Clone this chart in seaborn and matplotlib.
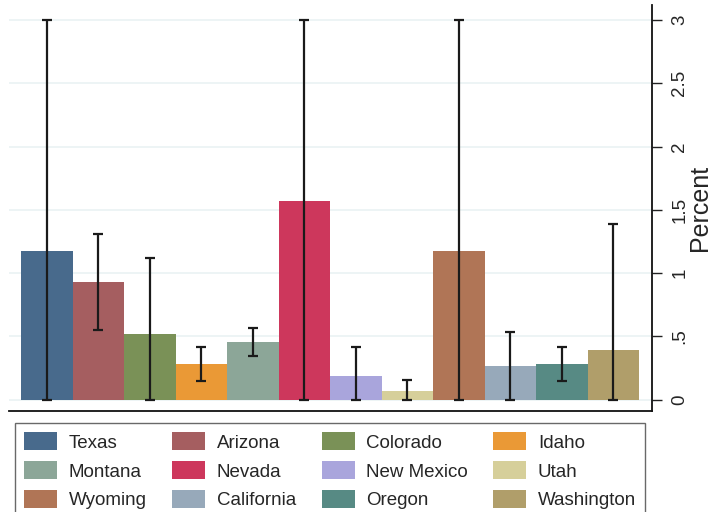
import matplotlib
matplotlib.use("Agg")
import matplotlib.pyplot as plt
from matplotlib.patches import Patch
import seaborn as sns
import pandas as pd

# Share of respondents by state, with confidence interval bounds
states = ["Texas", "Arizona", "Colorado", "Idaho", "Montana", "Nevada",
          "New Mexico", "Utah", "Wyoming", "California", "Oregon", "Washington"]
percent = [1.175, 0.93, 0.52, 0.28, 0.455, 1.568, 0.188, 0.066, 1.175, 0.265, 0.281, 0.391]
ci_low = [0.0, 0.549, 0.0, 0.146, 0.344, 0.0, 0.0, 0.0, 0.0, 0.0, 0.149, 0.0]
ci_high = [3.0, 1.306, 1.12, 0.413, 0.563, 3.0, 0.414, 0.154, 3.0, 0.536, 0.415, 1.385]
tick_values = [0, 0.5, 1, 1.5, 2, 2.5, 3]
tick_labels = ["0", ".5", "1", "1.5", "2", "2.5", "3"]

colors = ["#486a8c", "#a55e60", "#7a9157", "#ea9936", "#8ca698", "#cd375c",
          "#a9a5dc", "#d6cf9a", "#b07556", "#97a9ba", "#578a84", "#b09e6a"]

df = pd.DataFrame({"state": states, "percent": percent})

sns.set_style("white")
plt.rcParams["font.family"] = ["Liberation Sans", "DejaVu Sans"]

W, H = 718, 512
fig = plt.figure(figsize=(W / 100, H / 100), dpi=100)
ax = fig.add_axes([9 / W, (H - 411) / H, (652 - 9) / W, (411 - 5) / H])

sns.barplot(data=df, x="state", y="percent", hue="state", order=states,
            hue_order=states, palette=colors, width=1.0, dodge=False,
            legend=False, errorbar=None, saturation=1, ax=ax, zorder=2,
            linewidth=0)

xpos = list(range(len(states)))
ax.errorbar(xpos, percent,
            yerr=[[p - lo for p, lo in zip(percent, ci_low)],
                  [hi - p for p, hi in zip(percent, ci_high)]],
            fmt="none", ecolor="#1a1a1a", elinewidth=1.6, capsize=3.6,
            capthick=1.6, zorder=3)

ax.set_xlim(-0.733, 11.752)
ax.set_ylim(-0.0909, 3.1186)

ax.set_xticks([])
ax.set_xlabel("")
ax.yaxis.tick_right()
ax.yaxis.set_label_position("right")
ax.set_yticks(tick_values)
ax.set_yticklabels(tick_labels, rotation=90, va="center", fontsize=13.5)
ax.tick_params(axis="y", direction="out", length=7, width=1, color="#222222",
               pad=7, right=True, left=False)
ax.set_ylabel("Percent", fontsize=18, rotation=90, labelpad=0)

ax.grid(axis="y", color="#eaf2f3", linewidth=1.2, zorder=0)
ax.set_axisbelow(True)

for side in ["left", "top"]:
    ax.spines[side].set_visible(False)
for side in ["right", "bottom"]:
    ax.spines[side].set_color("#111111")
    ax.spines[side].set_linewidth(1.3)

# Legend laid out row by row, four entries per row
ncol = 4
order = [i for c in range(ncol) for i in range(c, len(states), ncol)]
handles = [Patch(facecolor=colors[i], edgecolor="none") for i in order]
labels = [states[i] for i in order]
leg = fig.legend(handles, labels, ncol=ncol, loc="upper left",
                 bbox_to_anchor=(15 / W, (H - 423) / H),
                 bbox_transform=fig.transFigure, borderaxespad=0,
                 fontsize=13.5, frameon=True, fancybox=False,
                 handlelength=1.76, handleheight=1.07, handletextpad=0.62,
                 columnspacing=1.35, labelspacing=0.52, borderpad=0.5)
leg.get_frame().set_edgecolor("#444444")
leg.get_frame().set_linewidth(1.0)

fig.savefig("out.png", dpi=100)
